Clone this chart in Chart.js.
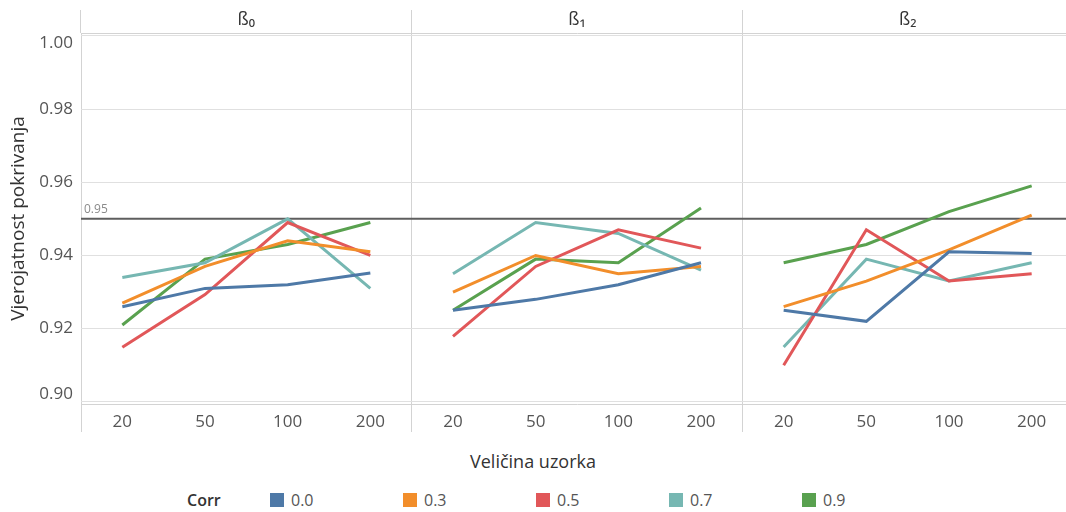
<!DOCTYPE html>
<html>
<head>
<meta charset="utf-8">
<script src="https://cdn.jsdelivr.net/npm/chart.js@4.4.1/dist/chart.umd.min.js"></script>
<style>
  html, body { margin: 0; padding: 0; background: #fff; overflow: hidden; }
  #wrap { position: relative; width: 1066px; height: 512px; overflow: hidden; font-family: 'Open Sans', sans-serif; }
  #chartBox { position: absolute; left: 0; top: 0; }
  #xtitle { position: absolute; left: 0; top: 448px; width: 1066px; text-align: center; font-size: 18px; color: #333; line-height: 26px; }
  #legend { position: absolute; left: 187px; top: 489px; display: flex; align-items: center; height: 22px; }
  #legend .ttl { width: 83px; font-weight: 600; font-size: 16px; color: #333; }
  #legend .item { width: 133px; display: flex; align-items: center; font-size: 16px; color: #555; }
  #legend .sw { width: 14px; height: 14px; margin-right: 7px; }
</style>
</head>
<body>
<div id="wrap">
  <div id="chartBox"><canvas id="chart" width="1073" height="448"></canvas></div>
  <div id="xtitle">Veličina uzorka</div>
  <div id="legend"><span class="ttl">Corr</span></div>
</div>
<script>
const categories = ['20', '50', '100', '200'];
const panels = ['ß₀', 'ß₁', 'ß₂'];
const corrLevels = ['0.0', '0.3', '0.5', '0.7', '0.9'];
const corrColors = ['#4e79a7', '#f28e2b', '#e15759', '#76b7b2', '#59a14f'];

// coverage for each Corr level: ß0 | ß1 | ß2, each at n = 20, 50, 100, 200
const cov00 = [0.926, 0.931, 0.932, 0.9352,  0.925, 0.928, 0.932, 0.938,  0.925, 0.922, 0.941, 0.9405];
const cov03 = [0.927, 0.937, 0.944, 0.941,   0.930, 0.940, 0.935, 0.937,  0.926, 0.933, 0.9415, 0.951];
const cov05 = [0.9149, 0.9293, 0.949, 0.940, 0.9179, 0.937, 0.947, 0.942, 0.910, 0.947, 0.933, 0.935];
const cov07 = [0.934, 0.938, 0.950, 0.931,   0.935, 0.949, 0.946, 0.936,  0.915, 0.939, 0.933, 0.938];
const cov09 = [0.921, 0.939, 0.943, 0.949,   0.925, 0.939, 0.938, 0.953,  0.938, 0.943, 0.952, 0.959];
const series = [cov00, cov03, cov05, cov07, cov09];

const yTicks = [0.90, 0.92, 0.94, 0.96, 0.98, 1.00];
const refLine = 0.95;

const sepColor = '#d3d3d3';
const nCat = categories.length;

Chart.defaults.font.family = "'Open Sans', sans-serif";

const refLinePlugin = {
  id: 'refLine',
  beforeDatasetsDraw(chart) {
    const { ctx, chartArea, scales: { y } } = chart;
    const py = y.getPixelForValue(refLine);
    ctx.save();
    ctx.strokeStyle = '#5e5e5e';
    ctx.lineWidth = 2;
    ctx.beginPath();
    ctx.moveTo(chartArea.left, py);
    ctx.lineTo(chartArea.right, py);
    ctx.stroke();
    ctx.fillStyle = '#8a8a8a';
    ctx.font = "12px 'Open Sans', sans-serif";
    ctx.textBaseline = 'bottom';
    ctx.fillText(refLine.toFixed(2), chartArea.left + 3, py - 3);
    ctx.restore();
  }
};

const datasets = corrLevels.map((c, i) => ({
  label: c,
  data: series[i],
  borderColor: corrColors[i],
  borderWidth: 3,
  pointRadius: 0,
  tension: 0,
  fill: false,
  // no line between the last point of one panel and the first of the next
  segment: { borderColor: ctx => (ctx.p0DataIndex % nCat === nCat - 1 ? 'transparent' : undefined) }
}));

// edge labels sit a little inside the plot, like the original
function yLabel(v) {
  const s = v.toFixed(2);
  if (v === yTicks[yTicks.length - 1]) return ['', s];
  if (v === yTicks[0]) return [s, ''];
  return s;
}

new Chart(document.getElementById('chart'), {
  type: 'line',
  data: { labels: panels.flatMap(() => categories), datasets },
  plugins: [refLinePlugin],
  options: {
    responsive: false,
    animation: false,
    layout: { padding: 0 },
    plugins: { legend: { display: false }, tooltip: { enabled: false } },
    scales: {
      x: {
        type: 'category',
        position: 'bottom',
        offset: true,
        grid: {
          offset: true,
          color: ctx => (ctx.index % nCat === 0 ? sepColor : 'transparent'),
          tickColor: ctx => (ctx.index % nCat === 0 ? sepColor : 'transparent'),
          tickLength: 28
        },
        border: { display: true, color: sepColor },
        ticks: { color: '#555', font: { size: 17 }, padding: -20, maxRotation: 0, autoSkip: false },
        afterFit: s => { s.height = 44; }
      },
      x2: {
        type: 'category',
        position: 'top',
        labels: panels,
        offset: true,
        grid: { offset: true, color: sepColor, drawOnChartArea: false, tickLength: 23 },
        border: { display: true, color: sepColor },
        ticks: { color: '#333', font: { size: 18 }, padding: -21, maxRotation: 0 },
        afterFit: s => { s.height = 33; }
      },
      y: {
        type: 'linear',
        min: 0.8994,
        max: 1.0008,
        afterBuildTicks: s => { s.ticks = yTicks.map(v => ({ value: v })); },
        grid: { color: '#e0e0e0', drawTicks: false },
        border: { display: false },
        ticks: { color: '#555', font: { size: 17, lineHeight: 0.85 }, padding: 8, callback: yLabel },
        title: {
          display: true,
          text: 'Vjerojatnost pokrivanja',
          color: '#333',
          font: { size: 19 },
          padding: { top: 7, bottom: 0 }
        },
        afterFit: s => { s.width = 81; }
      }
    }
  }
});

const legend = document.getElementById('legend');
corrLevels.forEach((c, i) => {
  const item = document.createElement('span');
  item.className = 'item';
  item.innerHTML = `<span class="sw" style="background:${corrColors[i]}"></span>${c}`;
  legend.appendChild(item);
});
</script>
</body>
</html>
